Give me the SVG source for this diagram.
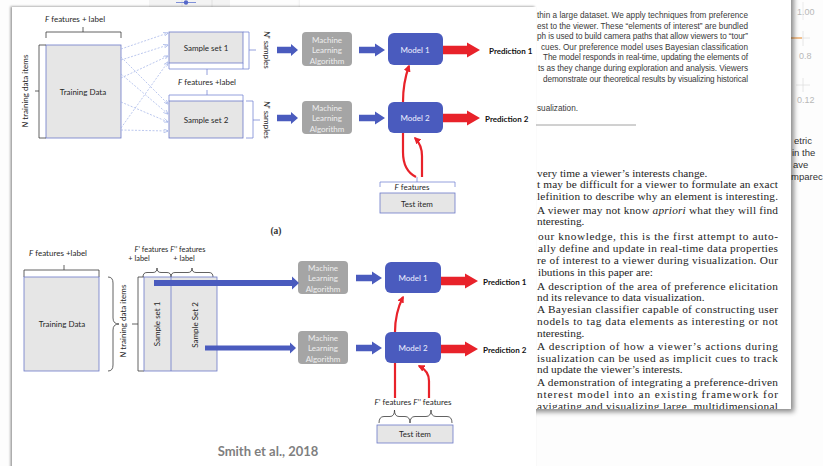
<svg xmlns="http://www.w3.org/2000/svg" width="823" height="466" viewBox="0 0 823 466">
<defs>
  <style>
    .t { font-family: Lato, "Open Sans", sans-serif; font-size: 8px; fill: #262626; }
    .c { text-anchor: middle; }
    .it { font-style: italic; }
    .sm { font-size: 7.4px; }
    .pred { fill: #111111; font-weight: bold; }
    .gbox { fill: #e6e6e6; stroke: #6b79c9; stroke-width: 0.8; }
    .ml { fill: #a5a5a5; }
    .mlt { fill: #eeeeee; }
    .model { fill: #4a5bbe; }
    .mt { fill: #eef0ff; }
    .blue { fill: #4a5bbe; }
    .red { fill: #e8222a; }
    .dk { fill: none; stroke: #3a3a3a; stroke-width: 0.8; }
    .bl { fill: none; stroke: #7a89d4; stroke-width: 0.8; }
    .dash { fill: none; stroke: #9fb0e6; stroke-width: 0.7; stroke-dasharray: 2 1.5; marker-end: url(#dashHead); }
    .rc { fill: none; stroke: #e8222a; stroke-width: 2.2; }
    .abs { font-family: "Liberation Sans", Arial, sans-serif; font-size: 8.2px; fill: #3a3a3a; }
    .body { font-family: "Liberation Serif", "Times New Roman", serif; font-size: 11.3px; fill: #1e1e1e; }
    .side { font-family: "Liberation Sans", Arial, sans-serif; font-size: 9.5px; fill: #333333; }
    .tick { font-family: "Liberation Sans", Arial, sans-serif; font-size: 9px; fill: #b8b8b8; }
  </style>
  <filter id="pageShadow" x="-10%" y="-10%" width="125%" height="125%">
    <feDropShadow dx="3" dy="3" stdDeviation="2.5" flood-color="#000" flood-opacity="0.45"/>
  </filter>
  <filter id="panelShadow" x="-5%" y="-5%" width="110%" height="110%">
    <feDropShadow dx="-1.5" dy="-0.5" stdDeviation="1.2" flood-color="#000" flood-opacity="0.4"/>
  </filter>
  <marker id="dashHead" markerWidth="5" markerHeight="4" refX="4.6" refY="2" orient="auto" markerUnits="userSpaceOnUse">
    <path d="M0,0 L5,2 L0,4" fill="none" stroke="#9fb0e6" stroke-width="0.7"/>
  </marker>
  <marker id="redHead" markerWidth="7" markerHeight="7" refX="5.5" refY="3.5" orient="auto" markerUnits="userSpaceOnUse">
    <path d="M0,0 L7,3.5 L0,7 Z" fill="#e8222a"/>
  </marker>
  <path id="blueIn" d="M0,-3.3 H14 V-6 L21,0 L14,6 V3.3 H0 Z"/>
  <path id="blueOut" d="M0,-3.3 H16 V-6.5 L26,0 L16,6.5 V3.3 H0 Z"/>
  <path id="redOut" d="M0,-4.3 H24 V-7.5 L37,0 L24,7.5 V4.3 H0 Z"/>
  <clipPath id="pageClip"><rect x="300" y="0" width="491" height="409"/></clipPath>
</defs>

<!-- backdrop -->
<rect x="0" y="0" width="823" height="466" fill="#fdfdfd"/>

<!-- chart fragment at the far right -->
<g id="side-chart">
  <line x1="803" y1="2" x2="803" y2="20" stroke="#e6e6e6" stroke-width="0.8"/>
  <text class="tick" x="797" y="15">1.00</text>
  <line x1="803" y1="31" x2="803" y2="46" stroke="#e0e0e0" stroke-width="0.8"/>
  <line x1="796" y1="38" x2="810" y2="38" stroke="#e0e0e0" stroke-width="0.8"/>
  <line x1="790" y1="38" x2="802" y2="38" stroke="#f0a050" stroke-width="1.2"/>
  <text class="tick" x="799" y="59">0.8</text>
  <line x1="803" y1="78" x2="803" y2="92" stroke="#e0e0e0" stroke-width="0.8"/>
  <line x1="796" y1="85" x2="810" y2="85" stroke="#e0e0e0" stroke-width="0.8"/>
  <text class="tick" x="797" y="103">0.12</text>
  <text class="side" x="794" y="144">etric</text>
  <text class="side" x="792" y="156">in the</text>
  <text class="side" x="793" y="168">ave</text>
  <text class="side" x="791" y="180">mparec</text>
</g>

<!-- paper page -->
<g id="paper-page">
  <rect x="300" y="-20" width="491" height="429" fill="#ffffff" filter="url(#pageShadow)"/>
  <g clip-path="url(#pageClip)">
    <text class="abs" x="537" y="18" textLength="211" lengthAdjust="spacing">thin a large dataset. We apply techniques from preference</text>
    <text class="abs" x="537" y="29" textLength="211" lengthAdjust="spacing">est to the viewer. These “elements of interest” are bundled</text>
    <text class="abs" x="537" y="39" textLength="211" lengthAdjust="spacing">ph is used to build camera paths that allow viewers to “tour”</text>
    <text class="abs" x="541" y="50" textLength="207" lengthAdjust="spacing">cues. Our preference model uses Bayesian classification</text>
    <text class="abs" x="543" y="60" textLength="205" lengthAdjust="spacing">The model responds in real-time, updating the elements of</text>
    <text class="abs" x="538" y="71" textLength="210" lengthAdjust="spacing">ts as they change during exploration and analysis. Viewers</text>
    <text class="abs" x="543" y="82" textLength="205" lengthAdjust="spacing">demonstrate our theoretical results by visualizing historical</text>
    <text class="abs" x="537" y="111">sualization.</text>
    <line x1="520" y1="125" x2="636" y2="125" stroke="#8a8a8a" stroke-width="0.8"/>

    <text class="body" x="537" y="177">very time a viewer’s interests change.</text>
    <text class="body" x="537" y="188" textLength="241" lengthAdjust="spacing">t may be difficult for a viewer to formulate an exact</text>
    <text class="body" x="537" y="200" textLength="241" lengthAdjust="spacing">lefinition to describe why an element is interesting.</text>
    <text class="body" x="537" y="214" textLength="241" lengthAdjust="spacing">A viewer may not know <tspan font-style="italic">apriori</tspan> what they will find</text>
    <text class="body" x="537" y="225">nteresting.</text>
    <text class="body" x="538" y="240" textLength="240" lengthAdjust="spacing">our knowledge, this is the first attempt to auto-</text>
    <text class="body" x="538" y="252" textLength="240" lengthAdjust="spacing">ally define and update in real-time data properties</text>
    <text class="body" x="537" y="264" textLength="241" lengthAdjust="spacing">re of interest to a viewer during visualization. Our</text>
    <text class="body" x="538" y="276">ibutions in this paper are:</text>
    <text class="body" x="537" y="290" textLength="241" lengthAdjust="spacing">A description of the area of preference elicitation</text>
    <text class="body" x="537" y="301">nd its relevance to data visualization.</text>
    <text class="body" x="537" y="313" textLength="241" lengthAdjust="spacing">A Bayesian classifier capable of constructing user</text>
    <text class="body" x="537" y="325" textLength="241" lengthAdjust="spacing">nodels to tag data elements as interesting or not</text>
    <text class="body" x="537" y="337">nteresting.</text>
    <text class="body" x="537" y="350" textLength="241" lengthAdjust="spacing">A description of how a viewer’s actions during</text>
    <text class="body" x="537" y="362" textLength="241" lengthAdjust="spacing">isualization can be used as implicit cues to track</text>
    <text class="body" x="537" y="373">nd update the viewer’s interests.</text>
    <text class="body" x="537" y="386" textLength="241" lengthAdjust="spacing">A demonstration of integrating a preference-driven</text>
    <text class="body" x="537" y="398" textLength="241" lengthAdjust="spacing">nterest model into an existing framework for</text>
    <text class="body" x="537" y="410" textLength="241" lengthAdjust="spacing">avigating and visualizing large, multidimensional</text>
  </g>
</g>

<!-- small chart fragment above the diagram sheet -->
<g id="top-fragment">
  <rect x="149" y="-1" width="81" height="8" fill="#f3f3f3"/>
  <line x1="182" y1="0" x2="182" y2="7" stroke="#dcdcdc" stroke-width="0.8"/>
  <line x1="212" y1="0" x2="212" y2="7" stroke="#dcdcdc" stroke-width="0.8"/>
  <line x1="176" y1="2.5" x2="196" y2="2.5" stroke="#7f90d8" stroke-width="1"/>
  <circle cx="186" cy="2.5" r="2.2" fill="#5567c9"/>
</g>

<!-- diagram sheet -->
<rect id="sheet" x="12" y="7" width="524" height="475" fill="#ffffff" filter="url(#panelShadow)"/>

<!-- ============ (a) bagging layout ============ -->
<g id="a-training">
  <path class="dk" d="M46,38 V32 H121 V38 M83,32 V27"/>
  <text class="t c" x="75" y="22"><tspan class="it">F</tspan> features + label</text>
  <rect class="gbox" x="46" y="45" width="75" height="93"/>
  <path class="dk" d="M46,45 H39 V138 H46 M39,91 H35"/>
  <text class="t c" transform="translate(25,91) rotate(-90)" y="3"><tspan class="it">N</tspan> training data items</text>
  <text class="t c" x="83" y="95">Training Data</text>
</g>

<g id="a-sample1">
  <rect class="gbox" x="169" y="32" width="74" height="31"/>
  <path class="bl" d="M169,63 V69 H243 V63 M207,69 V75"/>
  <path class="bl" d="M243,32 H249 V69 H243 M249,50 H256"/>
  <text class="t c" x="206" y="51">Sample set 1</text>
  <text class="t c" transform="translate(267,50) rotate(90)" y="3"><tspan class="it">N</tspan>' samples</text>
</g>

<text class="t c" x="207" y="85"><tspan class="it">F</tspan> features +label</text>

<g id="a-sample2">
  <rect class="gbox" x="169" y="101" width="74" height="37"/>
  <path class="bl" d="M169,101 V95 H243 V101 M207,95 V90"/>
  <path class="bl" d="M246,101 H253 V138 H246 M253,120 H260"/>
  <text class="t c" x="206" y="123">Sample set 2</text>
  <text class="t c" transform="translate(267,120) rotate(90)" y="3"><tspan class="it">N</tspan>' samples</text>
</g>

<g id="a-ml1">
  <rect class="ml" x="302" y="32" width="50" height="34" rx="4"/>
  <text class="t c mlt" x="327" y="43">Machine</text>
  <text class="t c mlt" x="327" y="53">Learning</text>
  <text class="t c mlt" x="327" y="64">Algorithm</text>
</g>
<g id="a-ml2">
  <rect class="ml" x="302" y="101" width="50" height="33" rx="4"/>
  <text class="t c mlt" x="327" y="111">Machine</text>
  <text class="t c mlt" x="327" y="121">Learning</text>
  <text class="t c mlt" x="327" y="132">Algorithm</text>
</g>
<g id="a-model1">
  <rect class="model" x="388" y="33" width="55" height="32" rx="6"/>
  <text class="t c mt" x="415" y="53">Model 1</text>
</g>
<g id="a-model2">
  <rect class="model" x="388" y="102" width="55" height="31" rx="6"/>
  <text class="t c mt" x="415" y="121">Model 2</text>
</g>
<g id="a-pred1"><text class="t pred" x="489" y="54">Prediction 1</text></g>
<g id="a-pred2"><text class="t pred" x="485" y="122">Prediction 2</text></g>

<g id="a-test">
  <path class="bl" d="M380,187 V182 H455 V187 M417,182 V177"/>
  <text class="t c" x="412" y="190"><tspan class="it">F</tspan> features</text>
  <rect class="gbox" x="380" y="193" width="75" height="20"/>
  <text class="t c" x="417" y="207">Test item</text>
</g>

<g id="a-connectors">
  <line class="dash" x1="121" y1="49" x2="168" y2="33"/>
  <line class="dash" x1="121" y1="60" x2="168" y2="45"/>
  <line class="dash" x1="121" y1="78" x2="168" y2="56"/>
  <line class="dash" x1="121" y1="128" x2="168" y2="62"/>
  <line class="dash" x1="121" y1="57" x2="168" y2="104"/>
  <line class="dash" x1="121" y1="74" x2="168" y2="114"/>
  <line class="dash" x1="121" y1="102" x2="168" y2="122"/>
  <line class="dash" x1="121" y1="130" x2="168" y2="131"/>
  <use href="#blueIn" class="blue" x="277" y="50"/>
  <use href="#blueIn" class="blue" x="277" y="118"/>
  <use href="#blueOut" class="blue" x="359" y="50"/>
  <use href="#blueOut" class="blue" x="359" y="118"/>
  <use href="#redOut" class="red" x="443" y="50"/>
  <use href="#redOut" class="red" x="443" y="118"/>
  <path class="rc" d="M403,102 C403,88 405,77 409,66" marker-end="url(#redHead)"/>
  <path class="rc" d="M416,177 C408,173 403,166 403,152 L403,133"/>
  <path class="rc" d="M422,177 L422,156 C422,147 419,142 415,138" marker-end="url(#redHead)"/>
</g>

<text x="276" y="234" font-family="Liberation Serif, serif" font-size="9.5" font-weight="bold" fill="#333" text-anchor="middle">(a)</text>

<!-- ============ (b) feature-split layout ============ -->
<g id="b-training">
  <text class="t c" x="58" y="256"><tspan class="it">F</tspan> features +label</text>
  <path class="dk" d="M24,277 V270 H99 V277 M64,270 V265"/>
  <rect class="gbox" x="24" y="277" width="75" height="94"/>
  <text class="t c" x="62" y="327">Training Data</text>
  <path class="dk" d="M108,277 Q113,277 113,283 L113,318 Q113,324 119,324 Q113,324 113,330 L113,365 Q113,371 108,371"/>
  <text class="t c" transform="translate(123,321) rotate(-90)" y="3"><tspan class="it">N</tspan> training data items</text>
</g>

<g id="b-samples">
  <text class="t c sm" x="170" y="252"><tspan class="it">F</tspan>’ features <tspan class="it">F</tspan>’’ features</text>
  <text class="t c sm" x="139" y="261">+ label</text>
  <text class="t c sm" x="184" y="261">+ label</text>
  <path class="dk" d="M143,277 Q143,272.5 147,272.5 L153,272.5 Q157,272.5 157,268 Q157,272.5 161,272.5 L167,272.5 Q171,272.5 171,277"/>
  <path class="dk" d="M171,277 Q171,272.5 175,272.5 L188,272.5 Q192,272.5 192,268 Q192,272.5 196,272.5 L209,272.5 Q213,272.5 213,277"/>
  <path class="dk" d="M144,277 H138 V371 H144 M138,324 H132"/>
  <rect class="gbox" x="144" y="277" width="73" height="94"/>
  <line x1="171" y1="277" x2="171" y2="371" stroke="#6b79c9" stroke-width="0.8"/>
  <text class="t c" transform="translate(157,324) rotate(-90)" y="3">Sample set 1</text>
  <text class="t c" transform="translate(195,325) rotate(-90)" y="3">Sample Set 2</text>
</g>

<g id="b-ml1">
  <rect class="ml" x="298" y="261" width="50" height="33" rx="4"/>
  <text class="t c mlt" x="323" y="271">Machine</text>
  <text class="t c mlt" x="323" y="281">Learning</text>
  <text class="t c mlt" x="323" y="292">Algorithm</text>
</g>
<g id="b-ml2">
  <rect class="ml" x="298" y="331" width="50" height="33" rx="4"/>
  <text class="t c mlt" x="323" y="341">Machine</text>
  <text class="t c mlt" x="323" y="351">Learning</text>
  <text class="t c mlt" x="323" y="362">Algorithm</text>
</g>
<g id="b-model1">
  <rect class="model" x="385" y="262" width="56" height="31" rx="6"/>
  <text class="t c mt" x="413" y="281">Model 1</text>
</g>
<g id="b-model2">
  <rect class="model" x="385" y="332" width="56" height="31" rx="6"/>
  <text class="t c mt" x="413" y="351">Model 2</text>
</g>
<g id="b-pred1"><text class="t pred" x="483" y="285">Prediction 1</text></g>
<g id="b-pred2"><text class="t pred" x="483" y="353">Prediction 2</text></g>

<g id="b-test">
  <text class="t c" x="413" y="405"><tspan class="it">F</tspan>’ features <tspan class="it">F</tspan>’’ features</text>
  <path class="dk" d="M379,423 Q379,416.5 384,416.5 L390,416.5 Q394.5,416.5 394.5,410 Q394.5,416.5 399,416.5 L405,416.5 Q410,416.5 410,423"/>
  <path class="dk" d="M410,423 Q410,416.5 415,416.5 L426,416.5 Q431,416.5 431,410 Q431,416.5 436,416.5 L447,416.5 Q452,416.5 452,423"/>
  <rect class="gbox" x="377" y="425" width="76" height="18"/>
  <text class="t c" x="415" y="437">Test item</text>
</g>

<g id="b-connectors">
  <rect class="blue" x="154" y="280" width="138" height="6"/>
  <path class="blue" d="M292,276.5 L299,283 L292,289.5 Z"/>
  <rect class="blue" x="205" y="345.5" width="85" height="5"/>
  <path class="blue" d="M290,342.5 L296,348 L290,353.5 Z"/>
  <use href="#blueOut" class="blue" x="356" y="278"/>
  <use href="#blueOut" class="blue" x="356" y="348"/>
  <use href="#redOut" class="red" x="441" y="281"/>
  <use href="#redOut" class="red" x="441" y="349"/>
  <path class="rc" d="M395,332 C395,318 398,307 403,297" marker-end="url(#redHead)"/>
  <path class="rc" d="M395,398 L395,363"/>
  <path class="rc" d="M429,398 L429,381 C429,373 425,369 419,366" marker-end="url(#redHead)"/>
</g>

<text x="268" y="456" font-family="Lato, 'Open Sans', sans-serif" font-size="13" font-weight="bold" fill="#7f7f7f" text-anchor="middle">Smith et al., 2018</text>
</svg>
